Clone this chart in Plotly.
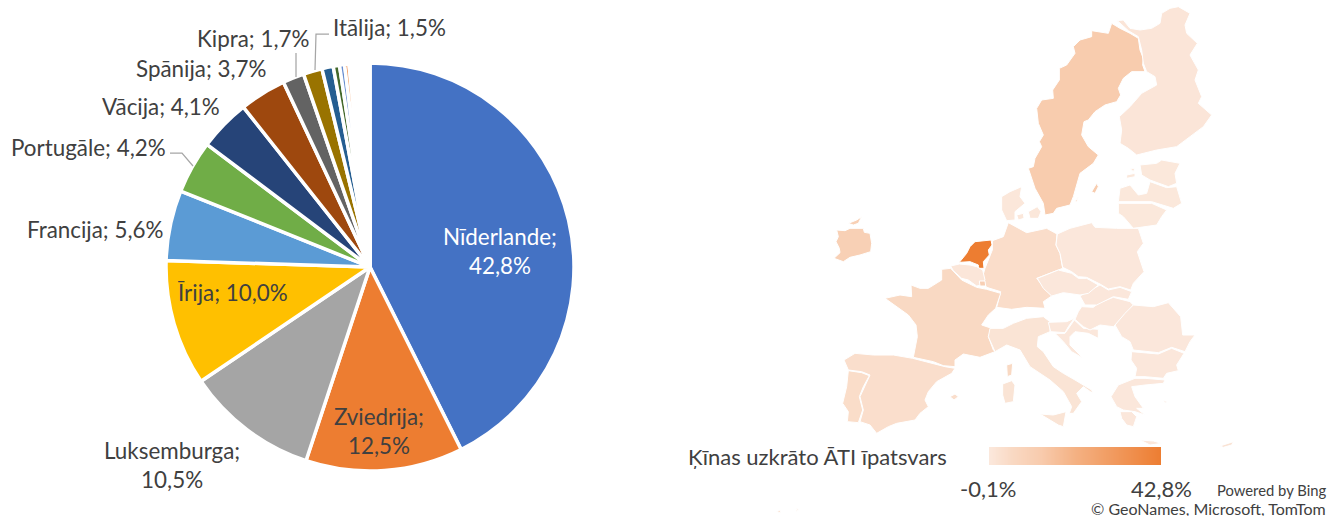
import plotly.graph_objects as go
from plotly.colors import sample_colorscale

# ---------- pie data ----------
pie_labels = ["Nīderlande", "Zviedrija", "Luksemburga", "Īrija", "Francija", "Portugāle", "Vācija", "Spānija",
              "Kipra", "Itālija", "Somija", "Beļģija", "Austrija", "Dānija", "Polija", "Čehija", "Ungārija",
              "Rumānija", "Grieķija", "Bulgārija", "Slovākija", "Horvātija", "Slovēnija", "Malta", "Latvija",
              "Igaunija", "Lietuva"]
pie_values = [42.8, 12.5, 10.5, 10.0, 5.6, 4.2, 4.1, 3.7, 1.7, 1.5, 0.9, 0.5, 0.4, 0.35, 0.2, 0.2, 0.18, 0.15,
              0.15, 0.15, 0.12, 0.12, 0.1, 0.1, 0.08, 0.05, 0.05]
pie_colors = ["#4472C4", "#ED7D31", "#A5A5A5", "#FFC000", "#5B9BD5", "#70AD47", "#264478", "#9E480E", "#636363",
              "#997300", "#255E91", "#43682B", "#698ED0", "#F1975A", "#B7B7B7", "#FFCD33", "#7CAFDD", "#8CC168",
              "#327DC2", "#5A8AC6", "#D2691E", "#808080", "#BF9000", "#2E75B6", "#548235", "#8FAADC", "#F4B183"]

# ---------- map data ----------
shares = {"Netherlands": 42.8, "Sweden": 12.5, "Luxembourg": 10.5, "Ireland": 10.0, "France": 5.6, "Portugal": 4.2,
          "Germany": 4.1, "Spain": 3.7, "Cyprus": 1.7, "Italy": 1.5, "Finland": 0.9, "Belgium": 0.5, "Denmark": 0.35,
          "Poland": 0.2, "Czechia": 0.2, "Hungary": 0.18, "Romania": 0.15, "Greece": 0.15, "Bulgaria": 0.15,
          "Slovakia": 0.12, "Croatia": 0.12, "Slovenia": 0.1, "Malta": 0.1, "Latvia": 0.08, "Estonia": 0.05,
          "Lithuania": 0.05}
scale_min, scale_max = -0.1, 42.8
map_scale = [[0, "#FBE8DC"], [0.14, "#F9D8C2"], [0.3, "#F8CBAD"], [0.5, "#F4B183"], [1, "#ED7D31"]]

north = {
    "Sweden": [[(455,70),(480,85),(510,100),(535,115),(540,150),(550,175),(548,195),(555,215),(515,215),(490,235),(475,265),(482,285),(470,305),(435,315),(405,335),(385,360),(372,365),(365,405),(385,440),(415,465),(400,490),(360,520),(350,555),(340,590),(330,615),(290,625),(280,640),(255,645),(250,610),(225,565),(205,505),(220,500),(225,475),(245,440),(238,425),(250,405),(235,370),(230,325),(245,300),(280,295),(278,270),(298,240),(298,205),(320,195),(345,160),(340,140),(360,120),(395,110),(395,92),(445,100)],
               [(395,575),(410,550),(415,560),(405,580)], [(345,605),(355,590),(350,605)]],
    "Finland": [[(472,62),(490,60),(510,85),(540,90),(575,85),(600,70),(605,40),(630,25),(655,20),(690,40),(675,75),(680,100),(712,130),(690,165),(715,210),(705,240),(725,290),(715,310),(755,345),(730,380),(690,410),(650,440),(590,450),(530,465),(505,445),(480,430),(485,390),(478,350),(510,320),(545,280),(590,255),(585,230),(560,215),(550,190),(545,150),(535,110),(505,92)]],
    "Estonia": [[(540,495),(590,490),(605,480),(660,490),(645,520),(650,550),(625,560),(570,540),(545,525)],
                [(500,525),(525,520),(525,530),(500,535)], [(510,505),(525,505),(520,515)]],
    "Latvia": [[(570,545),(620,563),(650,560),(665,610),(640,625),(575,605),(475,605),(480,565),(510,555),(535,585),(560,580)]],
    "Lithuania": [[(475,610),(575,610),(620,630),(605,650),(590,675),(520,685),(490,650),(475,640)]],
    "Denmark": [[(125,590),(150,575),(185,560),(180,590),(195,610),(165,635),(165,660),(140,662),(125,630)],
                [(205,635),(232,620),(243,635),(235,655),(210,655)], [(170,645),(190,640),(192,655),(175,660)]],
}
west = {
    "Germany": [[(535,68),(590,98),(650,85),(681,102),(678,135),(690,160),(698,205),(620,235),(640,260),(665,288),(640,305),(645,325),(590,322),(545,328),(500,322),(512,275),(470,262),(455,240),(465,205),(487,150),(487,122),(520,110)]],
    "Netherlands": [[(388,187),(410,160),(420,140),(435,125),(483,120),(486,135),(475,150),(478,165),(460,185),(462,205),(445,205),(445,195),(420,185)]],
    "Belgium": [[(362,198),(388,192),(420,195),(440,200),(458,210),(465,240),(455,255),(440,258),(415,240),(395,235),(370,212)]],
    "Luxembourg": [[(448,243),(465,243),(467,258),(450,258)]],
    "France": [[(335,208),(362,205),(395,240),(440,262),(470,268),(512,280),(497,325),(475,345),(455,375),(485,385),(475,410),(490,450),(495,455),(450,472),(400,462),(375,480),(375,500),(340,497),(310,485),(250,472),(262,410),(258,375),(235,345),(200,320),(165,295),(210,285),(245,290),(243,255),(270,265),(295,265),(335,240)],
               [(530,495),(548,490),(545,525),(532,530)]],
    "Spain": [[(42,480),(75,460),(130,465),(190,465),(248,475),(300,488),(345,500),(375,505),(365,520),(320,545),(295,575),(285,600),(295,620),(270,640),(255,660),(200,670),(175,680),(140,700),(120,675),(90,665),(100,630),(90,590),(105,560),(120,525),(95,515),(55,510)],
              [(360,590),(375,582),(385,590),(372,600)],
              [(-160,935),(-150,930),(-148,938)], [(-100,925),(-95,930),(-102,935)]],
    "Portugal": [[(55,512),(95,518),(118,527),(100,560),(88,590),(98,630),(85,668),(52,665),(55,635),(38,610),(50,560)]],
    "Ireland": [[(20,90),(45,92),(60,85),(100,85),(103,97),(120,100),(125,130),(122,155),(90,165),(60,172),(40,185),(12,175),(30,158),(28,145),(18,125),(25,110)],
                [(55,70),(80,60),(95,50),(85,70),(70,75)]],
    "Italy": [[(480,385),(520,385),(550,370),(590,355),(640,350),(660,365),(660,395),(625,410),(622,440),(640,455),(670,500),(700,520),(735,540),(785,570),(788,580),(760,560),(740,580),(755,605),(730,640),(718,640),(725,620),(700,575),(660,540),(600,500),(570,450),(530,435),(495,455),(475,410)],
              [(518,552),(545,542),(555,555),(550,605),(525,610),(518,585)]],
}
east = {
    "Italy": [[(30,612),(70,615),(108,605),(100,650),(85,645)]],
    "Slovenia": [[(55,337),(110,335),(133,325),(115,350),(105,368),(80,365),(62,365)]],
    "Croatia": [[(133,330),(160,355),(205,358),(205,385),(175,370),(135,365),(120,380),(120,405),(160,445),(125,425),(100,395),(75,370),(105,370),(120,350)]],
    "Hungary": [[(155,290),(190,292),(205,280),(250,262),(300,275),(310,285),(280,320),(250,350),(210,345),(180,360),(160,350),(135,328),(145,305)]],
    "Slovakia": [[(150,258),(185,240),(210,225),(235,240),(270,232),(305,245),(295,268),(250,260),(200,285),(165,285)]],
    "Czechia": [[(22,205),(85,180),(125,190),(145,205),(170,205),(205,225),(175,250),(150,255),(100,248),(65,258),(40,235)]],
    "Poland": [[(82,72),(120,55),(185,38),(195,52),(260,55),(325,55),(340,100),(322,125),(342,185),(310,220),(302,240),(270,230),(235,237),(210,222),(170,202),(145,200),(125,185),(98,172),(90,130),(78,105)]],
    "Romania": [[(255,345),(285,310),(310,285),(370,290),(415,278),(452,320),(458,375),(495,375),(480,395),(465,425),(425,412),(385,428),(310,420),(300,395),(275,380)]],
    "Bulgaria": [[(305,425),(385,432),(425,415),(462,430),(440,465),(445,482),(410,490),(400,505),(345,500),(315,500),(320,475),(303,450)]],
    "Greece": [[(315,505),(345,505),(405,510),(400,520),(345,525),(305,530),(315,560),(340,595),(320,595),(345,615),(315,605),(280,600),(260,590),(243,560),(265,525)],
               [(270,605),(305,605),(320,620),(310,650),(290,645),(275,625)],
               [(330,690),(370,693),(395,700),(360,705)], [(400,570),(410,575),(405,580)]],
    "Cyprus": [[(570,708),(610,695),(605,705),(580,712)]],
}

# sheet origin of each outline group, in map units
groups = [(north, 960, 0), (west, 830, 200), (east, 1030, 210)]

W, H = 1328, 516
fig = go.Figure()


def colour(v):
    t = (v - scale_min) / (scale_max - scale_min)
    return sample_colorscale(map_scale, [t], colortype="rgb")[0]


for outlines, ox, oy in groups:
    for name, parts in outlines.items():
        xs, ys = [], []
        for part in parts:
            xs += [ox + p[0] / 3 for p in part] + [ox + part[0][0] / 3, None]
            ys += [oy + p[1] / 3 for p in part] + [oy + part[0][1] / 3, None]
        fig.add_trace(go.Scatter(x=xs, y=ys, mode="lines", fill="toself", fillcolor=colour(shares[name]),
                                 line=dict(color="white", width=1), name=name, hoverinfo="name", showlegend=False))

fig.add_trace(go.Pie(labels=pie_labels, values=pie_values, sort=False, direction="clockwise", rotation=0,
                     marker=dict(colors=pie_colors, line=dict(color="white", width=3.5)), textinfo="none",
                     domain=dict(x=[166 / W, 574 / W], y=[1 - 471 / H, 1 - 63 / H]), showlegend=False))

fig.add_trace(go.Heatmap(z=[[scale_min, scale_max]], x=[0, 1], y=[0], colorscale=map_scale, zmin=scale_min,
                         zmax=scale_max, zsmooth="best", showscale=False, xaxis="x2", yaxis="y2", hoverinfo="skip"))

FONT = "Lato, Carlito, Calibri, sans-serif"
DARK = "#404040"
SZ = 22.4
labels = [
    ("Nīderlande;<br>42,8%", 500, 251, "white", SZ),
    ("Zviedrija;<br>12,5%", 379, 431, DARK, SZ),
    ("Luksemburga;<br>10,5%", 172, 465, DARK, SZ),
    ("Īrija; 10,0%", 233, 292, DARK, SZ),
    ("Francija; 5,6%", 95, 229, DARK, SZ),
    ("Portugāle; 4,2%", 88, 147, DARK, SZ),
    ("Vācija; 4,1%", 161, 106, DARK, SZ),
    ("Spānija; 3,7%", 201, 68, DARK, SZ),
    ("Kipra; 1,7%", 253, 38, DARK, SZ),
    ("Itālija; 1,5%", 389, 28, DARK, SZ),
    ("Ķīnas uzkrāto ĀTI īpatsvars", 817, 456, DARK, 22),
    ("-0,1%", 988, 488, DARK, 22),
    ("42,8%", 1161, 488, DARK, 22),
]
for text, x, y, col, size in labels:
    fig.add_annotation(text=text, x=x / W, y=1 - y / H, xref="paper", yref="paper", xanchor="center", yanchor="middle",
                       showarrow=False, font=dict(family=FONT, size=size, color=col))
for text, y, size in [("Powered by Bing", 490, 14.8), ("© GeoNames, Microsoft, TomTom", 508, 16)]:
    fig.add_annotation(text=text, x=1328 / W, y=1 - y / H, xref="paper", yref="paper", xanchor="right",
                       yanchor="middle", showarrow=False, font=dict(family=FONT, size=size, color=DARK))

leaders = [[(329, 34), (316, 34), (315, 70)], [(296, 53), (296, 77)], [(170, 153), (182, 153), (193, 166)]]
for pts in leaders:
    path = "M " + " L ".join(f"{x / W} {1 - y / H}" for x, y in pts)
    fig.add_shape(type="path", path=path, xref="paper", yref="paper", line=dict(color="#A6A6A6", width=1.25))

fig.update_layout(
    width=W, height=H, margin=dict(l=0, r=0, t=0, b=0), paper_bgcolor="white", plot_bgcolor="rgba(0,0,0,0)",
    xaxis=dict(range=[0, W], domain=[0, 1], visible=False, fixedrange=True),
    yaxis=dict(range=[H, 0], domain=[0, 1], visible=False, fixedrange=True),
    xaxis2=dict(range=[0, 1], domain=[989 / W, 1161 / W], visible=False, anchor="y2"),
    yaxis2=dict(range=[-0.5, 0.5], domain=[1 - 465 / H, 1 - 447 / H], visible=False, anchor="x2"),
)
fig.write_html("out.html", config=dict(displayModeBar=False),
               post_script="document.body.style.margin='0';document.body.style.overflow='hidden';")
